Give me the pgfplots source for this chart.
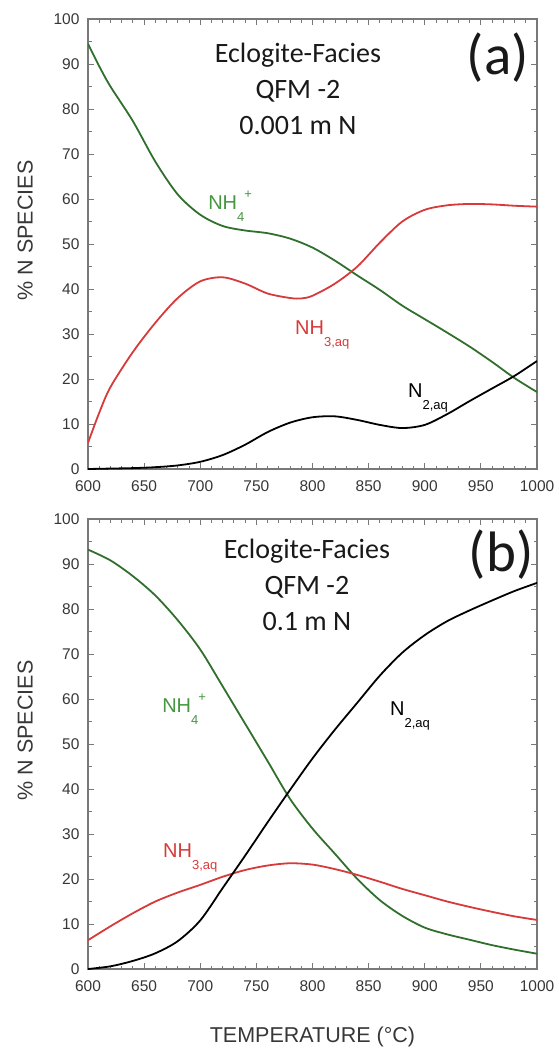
\documentclass[border=0pt]{standalone}
\usepackage{fontspec}
\setmainfont{Liberation Sans}
\newfontfamily\calib{Carlito}
\usepackage{pgfplots}
\pgfplotsset{compat=1.18}

\definecolor{nhfour}{RGB}{48,112,44}
\definecolor{nhfourtxt}{RGB}{70,150,66}
\definecolor{nhthree}{RGB}{215,58,58}
\definecolor{axgray}{RGB}{120,120,120}
\definecolor{txt}{RGB}{55,55,55}

\newcommand{\sub}[1]{\raisebox{-12pt}{\fontsize{13}{13}\selectfont #1}}
\newcommand{\sups}[1]{\raisebox{11pt}{\fontsize{13}{13}\selectfont #1}}

\pgfplotsset{
  panel/.style={
    scale only axis, width=449pt, height=450pt,
    xmin=600, xmax=1000, ymin=0, ymax=100,
    xtick={600,650,...,1000}, ytick={0,10,...,100},
    minor x tick num=4, minor y tick num=1,
    xmajorticks=true, ymajorticks=true, xminorticks=true, yminorticks=true,
    tick pos=both,
    tick align=inside,
    tickwidth=6pt, subtickwidth=3.5pt,
    axis line style={draw=axgray, line width=1.3pt},
    tick style={draw=axgray, line width=0.9pt},
    tick label style={font=\fontsize{15.5}{16}\selectfont, text=txt},
    /pgf/number format/assume math mode=true,
    /pgf/number format/1000 sep={},
    xticklabel style={yshift=-8pt},
    yticklabel style={xshift=-5pt},
    ylabel={\% N SPECIES},
    every axis y label/.style={at={(axis description cs:-0.14,0.53)}, rotate=90,
      anchor=center, font=\fontsize{21.5}{22}\selectfont, text=txt},
    every axis plot/.append style={smooth, line width=1.8pt, no marks},
  },
}

\begin{document}
\begin{tikzpicture}
\path[use as bounding box] (0pt,0pt) rectangle (559pt,-1052pt);

% (a) 0.001 m N
\begin{axis}[panel, at={(88pt,-469pt)}, anchor=south west]
\addplot[nhfour] coordinates {
(600,94.5) (610,89.5) (620,85) (640,77.3) (660,68.3) (680,61) (700,56.5)
(720,54) (740,53) (760,52.4) (780,51.2) (800,49.2) (820,46.3) (840,43)
(860,39.8) (880,36.3) (900,33.3) (920,30.3) (940,27.2) (960,23.8)
(980,20.2) (1000,17.1)};
\addplot[nhthree] coordinates {
(600,5.8) (610,12.5) (620,18.2) (640,26) (660,32.5) (680,38) (700,41.7)
(720,42.6) (740,41.2) (760,39) (780,38) (790,37.9) (800,38.5) (820,41.2)
(840,45) (860,50.3) (880,55) (900,57.6) (920,58.6) (940,58.9) (960,58.8)
(980,58.5) (1000,58.3)};
\addplot[black] coordinates {
(600,0) (620,0.1) (640,0.2) (660,0.4) (680,0.8) (700,1.6) (720,3.1)
(740,5.4) (760,8.2) (780,10.3) (800,11.5) (820,11.7) (840,10.9) (860,9.8)
(880,9.1) (900,9.8) (920,12.2) (940,15.1) (960,17.9) (980,20.7) (1000,24)};
\node[anchor=base west, text=nhfourtxt, font=\fontsize{20}{20}\selectfont, inner sep=0pt]
  at (axis cs:707,57.6) {NH\sub{4}\sups{+}};
\node[anchor=base west, text=nhthree, font=\fontsize{20}{20}\selectfont, inner sep=0pt]
  at (axis cs:784.4,29.8) {NH\sub{3,aq}};
\node[anchor=base west, text=black, font=\fontsize{20}{20}\selectfont, inner sep=0pt]
  at (axis cs:885,16) {N\sub{2,aq}};
\node[align=center, font=\calib\fontsize{28}{36}\selectfont, text=black!90]
  at (axis cs:787,84.5) {Eclogite-Facies\\QFM -2\\0.001 m N};
\node[font=\calib\fontsize{57}{57}\selectfont, text=black!90]
  at (axis cs:965,91.5) {(a)};
\end{axis}

% (b) 0.1 m N
\begin{axis}[panel, at={(88pt,-969pt)}, anchor=south west,
  xlabel={TEMPERATURE (°C)},
  every axis x label/.style={at={(axis description cs:0.5,-0.151)}, anchor=center,
    font=\fontsize{21.5}{22}\selectfont, text=txt}]
\addplot[nhfour] coordinates {
(600,93.2) (620,90.8) (640,87.3) (660,83) (680,77.5) (700,71) (720,62.8)
(740,54.5) (760,46.2) (780,37.8) (800,31.2) (820,25.6) (840,20) (860,15.3)
(880,11.8) (900,9.2) (920,7.7) (940,6.5) (960,5.3) (980,4.3) (1000,3.4)};
\addplot[nhthree] coordinates {
(600,6.4) (620,9.5) (640,12.4) (660,15) (680,17) (700,18.7) (720,20.5)
(740,22) (760,23) (780,23.5) (800,23.2) (820,22.2) (840,20.9) (860,19.4)
(880,17.8) (900,16.4) (920,15) (940,13.8) (960,12.7) (980,11.7) (1000,10.9)};
\addplot[black] coordinates {
(600,0) (620,0.6) (640,1.8) (660,3.5) (680,6.2) (700,10.8) (720,18)
(740,25.2) (760,32.6) (780,39.8) (800,46.8) (820,53.2) (840,59.2)
(860,65.2) (880,70.3) (900,74.2) (920,77.3) (940,79.7) (960,81.9)
(980,84) (1000,85.8)};
\node[anchor=base west, text=nhfourtxt, font=\fontsize{20}{20}\selectfont, inner sep=0pt]
  at (axis cs:666,56.9) {NH\sub{4}\sups{+}};
\node[anchor=base west, text=nhthree, font=\fontsize{20}{20}\selectfont, inner sep=0pt]
  at (axis cs:666.8,24.7) {NH\sub{3,aq}};
\node[anchor=base west, text=black, font=\fontsize{20}{20}\selectfont, inner sep=0pt]
  at (axis cs:869,56.4) {N\sub{2,aq}};
\node[align=center, font=\calib\fontsize{28}{36}\selectfont, text=black!90]
  at (axis cs:795,85.3) {Eclogite-Facies\\QFM -2\\0.1 m N};
\node[font=\calib\fontsize{57}{57}\selectfont, text=black!90]
  at (axis cs:968,92) {(b)};
\end{axis}
\end{tikzpicture}
\end{document}
